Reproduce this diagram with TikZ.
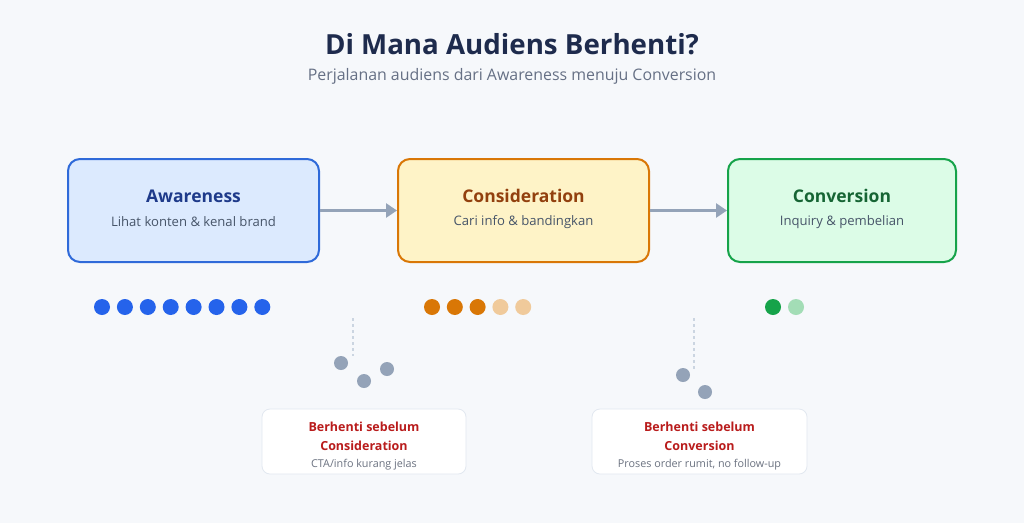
\documentclass[tikz,border=0pt]{standalone}
\usepackage{fontspec}
\setmainfont{Open Sans}
\usetikzlibrary{arrows.meta}
\definecolor{bg}{HTML}{F6F8FB}
\definecolor{navy}{HTML}{1E2B4D}
\definecolor{slate}{HTML}{667085}
\definecolor{sub}{HTML}{475569}
\definecolor{bfill}{HTML}{DCEAFE}
\definecolor{bline}{HTML}{2F6AD9}
\definecolor{btext}{HTML}{1E3A8A}
\definecolor{ofill}{HTML}{FEF3C7}
\definecolor{oline}{HTML}{D97706}
\definecolor{otext}{HTML}{92400E}
\definecolor{gfill}{HTML}{DCFCE7}
\definecolor{gline}{HTML}{16A34A}
\definecolor{gtext}{HTML}{166534}
\definecolor{arr}{HTML}{94A3B8}
\definecolor{bdot}{HTML}{2563EB}
\definecolor{odot}{HTML}{D97706}
\definecolor{odotl}{HTML}{F0CA9B}
\definecolor{gdot}{HTML}{16A34A}
\definecolor{gdotl}{HTML}{A3DDB6}
\definecolor{gray}{HTML}{94A3B8}
\definecolor{dash}{HTML}{CBD5E1}
\definecolor{cardline}{HTML}{E2E8F0}
\definecolor{red}{HTML}{B91C1C}
\definecolor{note}{HTML}{6B7280}
\begin{document}
\begin{tikzpicture}[x=1pt,y=-1pt,
  stage/.style={draw, line width=2pt, rounded corners=12pt, minimum height=103pt, inner sep=0pt},
  ttl/.style={font=\bfseries\fontsize{17.5}{20}\selectfont},
  stx/.style={font=\fontsize{13.1}{15}\selectfont, text=sub},
  flow/.style={draw=arr, line width=3pt, -{Triangle[length=11pt,width=14pt]}},
  dot/.style={circle, inner sep=0pt, minimum size=16pt},
  gdt/.style={circle, fill=gray, inner sep=0pt, minimum size=14pt},
  card/.style={draw=cardline, fill=white, rounded corners=8pt, line width=0.8pt, minimum height=65pt, inner sep=0pt},
  rtxt/.style={font=\bfseries\fontsize{12.5}{19}\selectfont, text=red, align=center},
  ntxt/.style={font=\fontsize{10.8}{13}\selectfont, text=note},
  vdash/.style={draw=dash, line width=1.2pt, dash pattern=on 3pt off 3pt}
]
\fill[bg] (0,0) rectangle (1024,523);
\useasboundingbox (0,0) rectangle (1024,523);

\node (title) at (512,44) {\bfseries\fontsize{27.7}{32}\selectfont\color{navy}Di Mana Audiens Berhenti?};
\node (subt) at (512,76) {\fontsize{15.9}{18}\selectfont\color{slate}Perjalanan audiens dari Awareness menuju Conversion};

\node[stage, draw=bline, fill=bfill, minimum width=251pt] (aw) at (193.5,210.5) {};
\node[stage, draw=oline, fill=ofill, minimum width=251pt] (co) at (523.5,210.5) {};
\node[stage, draw=gline, fill=gfill, minimum width=228pt] (cv) at (842,210.5) {};

\node[ttl, text=btext] (awt) at (193.5,196) {Awareness};
\node[stx] (aws) at (193.5,222) {Lihat konten \& kenal brand};
\node[ttl, text=otext] (cot) at (523.5,196) {Consideration};
\node[stx] (cos) at (523.5,222) {Cari info \& bandingkan};
\node[ttl, text=gtext] (cvt) at (842,196) {Conversion};
\node[stx] (cvs) at (842,222) {Inquiry \& pembelian};

\draw[flow] (aw.east) -- (co.west);
\draw[flow] (co.east) -- (cv.west);

\foreach \i in {0,...,7} {
  \node[dot, fill=bdot] (b\i) at ({102+22.9*\i},307) {};
}
\foreach \i in {0,1,2} {
  \node[dot, fill=odot] (o\i) at ({432+22.8*\i},307) {};
}
\foreach \i in {3,4} {
  \node[dot, fill=odotl] (o\i) at ({432+22.8*\i},307) {};
}
\node[dot, fill=gdot] (g0) at (773,307) {};
\node[dot, fill=gdotl] (g1) at (796,307) {};

\coordinate (d1a) at (353,318);
\coordinate (d1b) at (353,356);
\draw[vdash] (d1a) -- (d1b);
\node[gdt] (p1) at (341,363) {};
\node[gdt] (p2) at (364,381) {};
\node[gdt] (p3) at (387,369) {};

\coordinate (d2a) at (694,318);
\coordinate (d2b) at (694,370);
\draw[vdash] (d2a) -- (d2b);
\node[gdt] (q1) at (683,375) {};
\node[gdt] (q2) at (705,392) {};

\node[card, minimum width=204pt] (c1) at (364,441.5) {};
\node[rtxt] (c1t) at (364,436.5) {Berhenti sebelum\\Consideration};
\node[ntxt] (c1n) at (364,465) {CTA/info kurang jelas};

\node[card, minimum width=215pt] (c2) at (699.5,441.5) {};
\node[rtxt] (c2t) at (699.5,436.5) {Berhenti sebelum\\Conversion};
\node[ntxt] (c2n) at (699.5,465) {Proses order rumit, no follow-up};
\end{tikzpicture}
\end{document}
